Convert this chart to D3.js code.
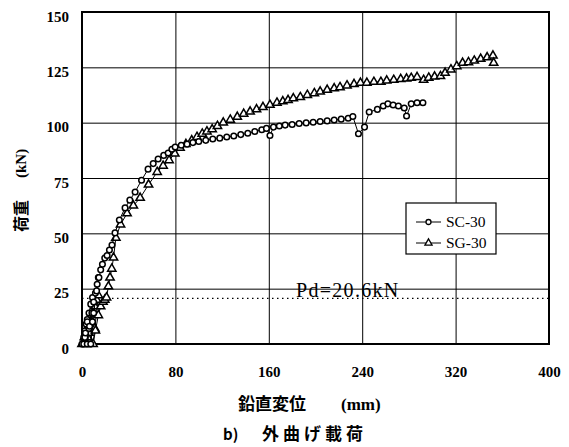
<!DOCTYPE html>
<html>
<head>
<meta charset="utf-8">
<script src="https://cdn.jsdelivr.net/npm/d3@7"></script>
<style>
  body { margin: 0; background: #fff; }
  svg { display: block; }
</style>
</head>
<body>
<script>
const W = 569, H = 447;
const plotL = 82, plotR = 549, plotT = 12, plotB = 344;

// load (kN) vs vertical displacement (mm)
const sc30 = [
  [0,0],[1.5,3],[2.5,6],[3.5,9],[4.5,11],[2.5,3],[1.5,0],[3,5],[4.5,10],[6,14],[7.5,18],[9,21],
  [6,7],[4.5,0],[6.5,8],[8.5,14],[10,19],[11.5,23],[13,27],[14,30],[9,10],[7.5,0],[10,14],
  [12.5,24],[14.5,30],[16,33.5],[17.5,36],[19.5,38.8],[21.5,40],[23.5,42.5],[25.7,44.7],
  [28.3,50.2],[32,56],[36.9,61.5],[41,65],[45.5,68.7],[51,74],[56.6,79],[61,81.5],[65.2,83.6],
  [70,85.2],[73.8,86.3],[77,88],[79.8,89],[85,89.8],[90,90.3],[95,91],[100,91.5],[106,92],
  [112,92.6],[118,93],[124,93.5],[130,94],[136,94.6],[142,95.2],[148,96],[154,96.8],[158,97.4],
  [161,94.2],[164,98],[169,98.5],[174,98.9],[180,99.2],[186,99.6],[192,99.9],[198,100.2],
  [204,100.5],[210,100.8],[216,101.2],[222,101.6],[228,102],[232,102.8],[236.8,95],[242,98],
  [246,104.8],[253,106],[258,107.5],[262,108.5],[266.5,108],[271,107.5],[276,106.6],[278,103],
  [282,108.5],[287,109],[292,109]
];
const sg30 = [
  [0,0],[2,3],[4,6],[5.5,8],[7,10],[5,3],[4,0],[6,5],[8,10],[9.5,14],[11,17],[12.5,20],[14,22],
  [11,7],[9.5,0],[11.5,6],[14,13],[16,17],[18,19],[19.5,20],[21,21],[22.6,26],[24,30],[25.5,34],
  [27,39],[29,48],[33,54],[38.6,59],[44,62.5],[49.8,66],[57,72],[64.4,77.7],[69.5,80.5],[74.6,83],
  [79.5,86],[84,88.6],[89,90.3],[94,92],[98.5,93.5],[103,95],[107,96],[111.5,97],[116,98.5],
  [121,100],[127,101.3],[133,102.6],[138.5,104],[144,105],[149.5,106],[155,107],[161,108],
  [167,109],[172,109.6],[176.5,110.2],[181,111],[187,111.5],[193,112.5],[199,113.3],[204,114],
  [210,114.8],[216,115.5],[221,116],[227,116.8],[233,117.4],[238.5,118],[244,118],[250,118.4],
  [256,118.4],[261,119],[267,119.3],[273,119.7],[278,119.9],[282,120.2],[287,120.6],[292.6,119.3],
  [297,120.3],[302,120.8],[307,121],[311,122.5],[316,124],[321,125.5],[326,127],[331,127.3],
  [336,128],[341.5,128.8],[347,129.5],[352,130.3],[352.6,127]
];
const xTicks = [0, 80, 160, 240, 320, 400];
const yTicks = [0, 25, 50, 75, 100, 125, 150];
const seriesNames = ["SC-30", "SG-30"];
const pd = 20.6;

const x = d3.scaleLinear().domain([0, 400]).range([plotL, plotR]);
const y = d3.scaleLinear().domain([0, 150]).range([plotB, plotT]);

const svg = d3.select("body").append("svg").attr("width", W).attr("height", H);
svg.append("rect").attr("width", W).attr("height", H).attr("fill", "#fff");

const serif = "'Liberation Serif','Times New Roman',serif";
const jp = "'Noto Sans CJK JP',sans-serif";

// grid + tick labels
const gx = svg.append("g").attr("transform", `translate(0,${plotB})`)
  .call(d3.axisBottom(x).tickValues(xTicks).tickSize(-(plotB - plotT)).tickPadding(22));
const gy = svg.append("g").attr("transform", `translate(${plotL},0)`)
  .call(d3.axisLeft(y).tickValues(yTicks).tickSize(-(plotR - plotL)).tickPadding(13));
[gx, gy].forEach(g => {
  g.select(".domain").remove();
  g.selectAll("line").attr("stroke", "#000").attr("stroke-width", 1);
  g.selectAll("text").attr("font-family", serif).attr("font-weight", "bold")
    .attr("font-size", 15).attr("fill", "#000");
});
gy.selectAll("text").attr("dy", "0.62em");

// Pd line
svg.append("line").attr("x1", x(0)).attr("x2", x(400)).attr("y1", y(pd)).attr("y2", y(pd))
  .attr("stroke", "#000").attr("stroke-width", 1.3).attr("stroke-dasharray", "1.5,3.5");
svg.append("text").attr("x", 296).attr("y", 297).text("Pd=20.6kN")
  .attr("font-family", serif).attr("font-size", 20).attr("letter-spacing", 1.3);

// frame
svg.append("rect").attr("x", plotL).attr("y", plotT).attr("width", plotR - plotL)
  .attr("height", plotB - plotT).attr("fill", "none").attr("stroke", "#000").attr("stroke-width", 2);

const line = d3.line().x(d => x(d[0])).y(d => y(d[1]));
const tri = d3.symbol().type(d3.symbolTriangle).size(30);

function drawSeries(data, kind) {
  svg.append("path").datum(data).attr("d", line)
    .attr("fill", "none").attr("stroke", "#000").attr("stroke-width", 1);
  const g = svg.append("g");
  if (kind === "c") {
    g.selectAll("circle").data(data).join("circle")
      .attr("cx", d => x(d[0])).attr("cy", d => y(d[1])).attr("r", 2.8)
      .attr("fill", "#fff").attr("stroke", "#000").attr("stroke-width", 1.5);
  } else {
    g.selectAll("path").data(data).join("path").attr("d", tri)
      .attr("transform", d => `translate(${x(d[0])},${y(d[1])})`)
      .attr("fill", "#fff").attr("stroke", "#000").attr("stroke-width", 1.5);
  }
}
drawSeries(sg30, "t");
drawSeries(sc30, "c");

// legend
const lg = svg.append("g");
lg.append("rect").attr("x", 406).attr("y", 203).attr("width", 90).attr("height", 51)
  .attr("fill", "#fff").attr("stroke", "#000").attr("stroke-width", 1.2);
seriesNames.forEach((name, i) => {
  const ly = 222 + i * 21;
  lg.append("line").attr("x1", 416).attr("x2", 441).attr("y1", ly).attr("y2", ly)
    .attr("stroke", "#000").attr("stroke-width", 1);
  if (i === 0) {
    lg.append("circle").attr("cx", 428.5).attr("cy", ly).attr("r", 2.5)
      .attr("fill", "#fff").attr("stroke", "#000").attr("stroke-width", 1.3);
  } else {
    lg.append("path").attr("d", d3.symbol().type(d3.symbolTriangle).size(22))
      .attr("transform", `translate(428.5,${ly})`)
      .attr("fill", "#fff").attr("stroke", "#000").attr("stroke-width", 1.3);
  }
  lg.append("text").attr("x", 446).attr("y", ly + 5).text(name)
    .attr("font-family", serif).attr("font-size", 15.5);
});

// axis titles
svg.append("text").attr("x", 238).attr("y", 410).text("鉛直変位")
  .attr("font-family", jp).attr("font-weight", "bold").attr("font-size", 17);
svg.append("text").attr("x", 341).attr("y", 410).text("(mm)")
  .attr("font-family", serif).attr("font-weight", "bold").attr("font-size", 17);
svg.append("text").attr("transform", "translate(27,232) rotate(-90)").text("荷重")
  .attr("font-family", jp).attr("font-weight", "bold").attr("font-size", 16);
svg.append("text").attr("transform", "translate(26,178) rotate(-90)").text("(kN)")
  .attr("font-family", serif).attr("font-weight", "bold").attr("font-size", 15);
svg.append("text").attr("x", 223).attr("y", 440).text("b)")
  .attr("font-family", jp).attr("font-weight", "bold").attr("font-size", 15);
svg.append("text").attr("x", 262).attr("y", 440).text("外曲げ載荷")
  .attr("font-family", jp).attr("font-weight", "bold").attr("font-size", 17).attr("letter-spacing", 4);
</script>
</body>
</html>
